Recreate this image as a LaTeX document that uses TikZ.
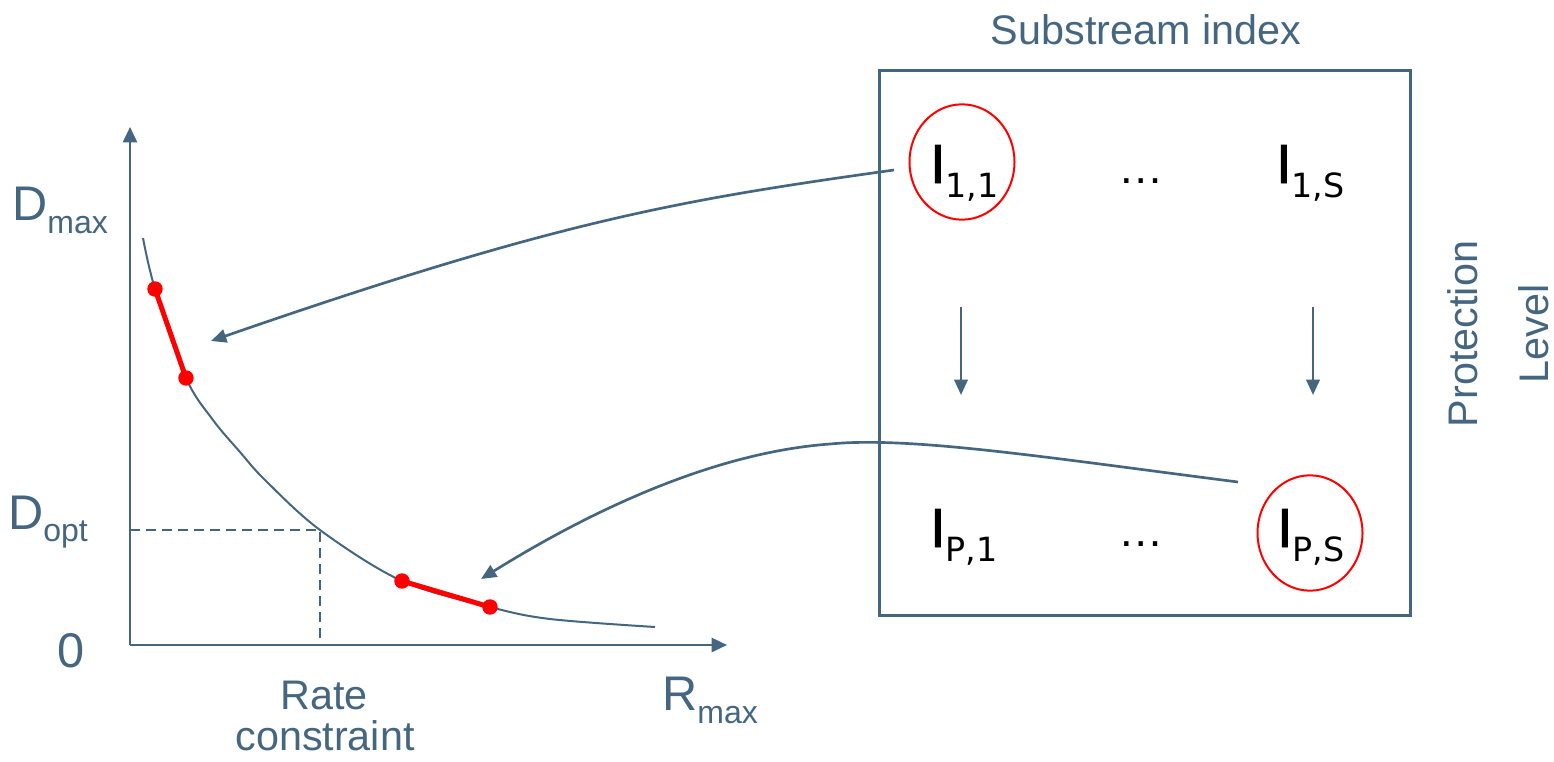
\documentclass[tikz,border=0pt]{standalone}
\usepackage{fontspec}
\setmainfont{Liberation Sans}
\newfontfamily\dejavu{DejaVu Sans}
\newfontfamily\dejavuh[FakeBold=1.6]{DejaVu Sans}
\usetikzlibrary{arrows.meta,shapes.geometric,calc}
\definecolor{slate}{RGB}{68,102,128}
\newcommand{\axsub}[2]{\raisebox{#1}{\fontsize{24}{28}\selectfont #2}}
\newcommand{\idxsub}[1]{\raisebox{-10.5pt}{\dejavu\fontsize{25}{28}\selectfont #1}}
\begin{document}
\begin{tikzpicture}[x=0.75pt,y=-0.75pt,
  lbl/.style={text=slate,inner sep=0pt,font=\fontsize{31}{36}\selectfont},
  axlbl/.style={text=slate,inner sep=0pt,font=\fontsize{36.5}{40}\selectfont},
  idx/.style={text=black,inner sep=0pt,font=\dejavuh\fontsize{39}{44}\selectfont},
  dotsl/.style={text=black,inner sep=0pt,font=\fontsize{34}{40}\selectfont},
  axisline/.style={draw=slate,line width=2pt,-{Triangle[length=11.5pt,width=10.5pt]}},
  conn/.style={draw=slate,line width=2pt,-{Triangle[length=11.5pt,width=10pt]}},
  circ/.style={ellipse,draw=red,line width=1.5pt,inner sep=0pt,minimum width=78.75pt,minimum height=86.5pt},
  rdcurve/.style={draw=slate,line width=1.5pt},
  redseg/.style={draw=red,line width=3.75pt},
  reddot/.style={fill=red},
  dashline/.style={draw=slate,line width=1.5pt,dash pattern=on 7.5pt off 4.5pt}
]
\useasboundingbox (0,0) rectangle (1554,761);

% ---------------- axes ----------------
\coordinate (O) at (130,645);
\coordinate (ytop) at (130,127);
\coordinate (xend) at (727,645);
\draw[axisline] (O) -- (ytop);
\draw[axisline] (O) -- (xend);

% dashed rate constraint
\coordinate (dy) at (130,530);
\coordinate (dc) at (320,530);
\coordinate (dx) at (320,645);
\draw[dashline] (dy) -- (dc) -- (dx);

% RD curve
\draw[rdcurve] plot[smooth,tension=0.55] coordinates {(143,238) (155,289) (186,378) (213,420) (240,452) (265,480) (320,530) (402,581) (490,607) (550,619) (655,627)};

% red segments
\coordinate (r1) at (155,289);
\coordinate (r2) at (186,378);
\coordinate (r3) at (402,581);
\coordinate (r4) at (490,607);
\draw[redseg] (r1) -- (r2);
\draw[redseg] (r3) -- (r4);
\foreach \p in {r1,r2,r3,r4} \fill[reddot] (\p) circle (5.8pt);

% axis labels
\node[axlbl,anchor=base west] (dmax) at (12,220) {D\axsub{-9.75pt}{max}};
\node[axlbl,anchor=base west] (dopt) at (8,529) {D\axsub{-9pt}{opt}};
\node[axlbl,anchor=base] (zero) at (71,667) {0};
\node[axlbl,anchor=base west] (rmax) at (662,710) {R\axsub{-9.75pt}{max}};
\node[lbl,anchor=base] (rate) at (324,709) {Rate};
\node[lbl,anchor=base] (constr) at (325,750) {constraint};

% ---------------- matrix box ----------------
\node[draw=slate,line width=2.25pt,inner sep=0pt,minimum width=398.25pt,minimum height=408.75pt] (box) at (1144.5,342.5) {};
\node[lbl,anchor=base] (subidx) at (1146,44) {Substream index};
\node[lbl,anchor=base,rotate=90] (prot) at (1477,334) {Protection};
\node[lbl,anchor=base,rotate=90] (level) at (1548,334) {Level};

\node[idx,anchor=base west] (i11) at (930,183) {I\idxsub{1,1}};
\node[idx,anchor=base west] (i1s) at (1276,183) {I\idxsub{1,S}};
\node[idx,anchor=base west] (ip1) at (930,547) {I\idxsub{P,1}};
\node[idx,anchor=base west] (ips) at (1277,547) {I\idxsub{P,S}};
\node[dotsl,anchor=base] (dots1) at (1141,183) {…};
\node[dotsl,anchor=base] (dots2) at (1141,546) {…};

\node[circ] (e11) at (962,162) {};
\node[circ] (eps) at (1310,533) {};

% down arrows
\coordinate (da1s) at (961,307);
\coordinate (da1e) at (961,395);
\coordinate (da2s) at (1313,307);
\coordinate (da2e) at (1313,395);
\draw[conn] (da1s) -- (da1e);
\draw[conn] (da2s) -- (da2e);

% curved connectors
\coordinate (s1) at (894,170);
\coordinate (t1) at (211,341);
\draw[conn] (s1) .. controls (680,200) and (560,220) .. (t1);
\coordinate (s2) at (1238,482);
\coordinate (m2) at (830,444);
\coordinate (t2) at (481,579);
\draw[conn] (s2) .. controls (1050,458) and (910,436) .. (m2) .. controls (720,452) and (600,505) .. (t2);
\end{tikzpicture}
\end{document}
